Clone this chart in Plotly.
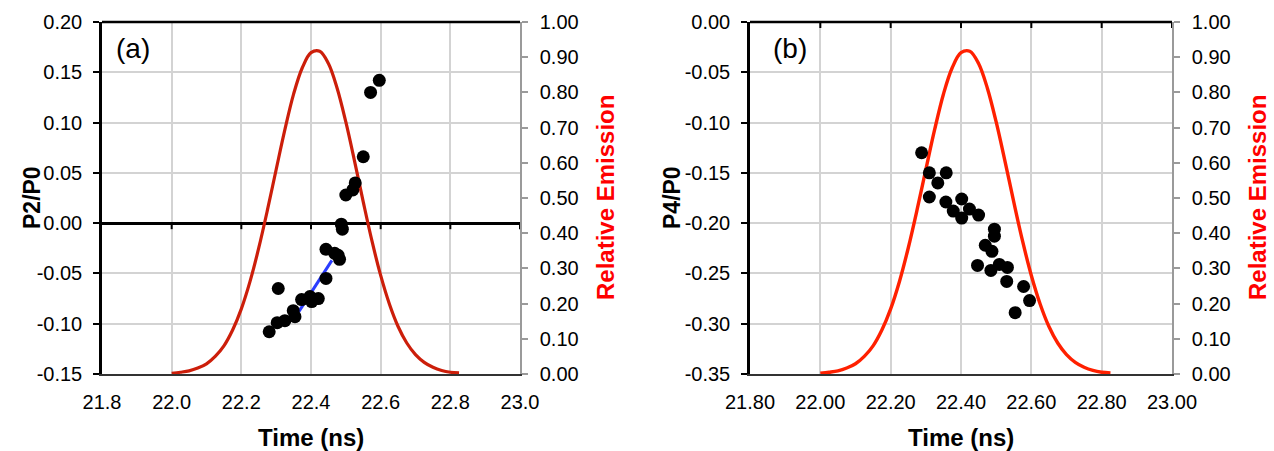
import plotly.graph_objects as go

# ---------------- data ----------------
time_ticks_a = [21.8, 22.0, 22.2, 22.4, 22.6, 22.8, 23.0]
time_labels_a = ["21.8", "22.0", "22.2", "22.4", "22.6", "22.8", "23.0"]
time_ticks_b = [21.8, 22.0, 22.2, 22.4, 22.6, 22.8, 23.0]
time_labels_b = ["21.80", "22.00", "22.20", "22.40", "22.60", "22.80", "23.00"]

p2_ticks = [0.20, 0.15, 0.10, 0.05, 0.00, -0.05, -0.10, -0.15]
p2_labels = ["0.20", "0.15", "0.10", "0.05", "0.00", "-0.05", "-0.10", "-0.15"]
p4_ticks = [0.00, -0.05, -0.10, -0.15, -0.20, -0.25, -0.30, -0.35]
p4_labels = ["0.00", "-0.05", "-0.10", "-0.15", "-0.20", "-0.25", "-0.30", "-0.35"]

# relative emission pulse
em_time = [22.000, 22.025, 22.050, 22.075, 22.100, 22.125, 22.150, 22.175, 22.200,
           22.225, 22.250, 22.275, 22.300, 22.325, 22.350, 22.375, 22.400, 22.425,
           22.450, 22.475, 22.500, 22.525, 22.550, 22.575, 22.600, 22.625, 22.650,
           22.675, 22.700, 22.725, 22.750, 22.775, 22.800, 22.825]
emission = [0.002, 0.005, 0.009, 0.017, 0.029, 0.050, 0.080, 0.125, 0.185,
            0.263, 0.358, 0.466, 0.581, 0.694, 0.795, 0.870, 0.913, 0.917,
            0.882, 0.812, 0.716, 0.605, 0.489, 0.378, 0.280, 0.199, 0.135,
            0.088, 0.055, 0.033, 0.019, 0.010, 0.005, 0.003]

# panel (a): P2/P0
p2_time = [22.596, 22.571, 22.550, 22.527, 22.520, 22.500, 22.487, 22.490,
           22.443, 22.468, 22.478, 22.482, 22.443, 22.306, 22.421, 22.397,
           22.373, 22.402, 22.349, 22.354, 22.325, 22.303, 22.280]
p2_value = [0.142, 0.130, 0.066, 0.040, 0.033, 0.028, -0.001, -0.006,
            -0.026, -0.030, -0.032, -0.036, -0.055, -0.065, -0.075, -0.073,
            -0.076, -0.078, -0.087, -0.093, -0.097, -0.099, -0.108]
fit_time = [22.365, 22.460]
fit_value = [-0.088, -0.037]

# panel (b): P4/P0
p4_time = [22.288, 22.310, 22.358, 22.334, 22.310, 22.357, 22.402, 22.378,
           22.402, 22.424, 22.450, 22.495, 22.495, 22.469, 22.488, 22.447,
           22.485, 22.509, 22.532, 22.530, 22.578, 22.595, 22.554]
p4_value = [-0.130, -0.150, -0.150, -0.160, -0.174, -0.179, -0.176, -0.188,
            -0.195, -0.186, -0.192, -0.206, -0.213, -0.222, -0.228, -0.242,
            -0.247, -0.241, -0.244, -0.258, -0.263, -0.277, -0.289]

# ---------------- figure ----------------
W, H = 1274, 451
ML, MR, MT, MB = 0, 0, 22, 77
FONT = "Liberation Sans, Arial, sans-serif"
GRID = "#D3D3D3"

fig = go.Figure()

# emission curves on base axes (drawn below the overlaid data)
fig.add_trace(go.Scatter(x=em_time, y=emission, mode="lines", xaxis="x", yaxis="y",
                         line=dict(color="#CC1E0A", width=3.2, shape="spline"),
                         showlegend=False, hoverinfo="skip"))
fig.add_trace(go.Scatter(x=em_time, y=emission, mode="lines", xaxis="x2", yaxis="y3",
                         line=dict(color="#FF2000", width=3.4, shape="spline"),
                         showlegend=False, hoverinfo="skip"))

# fit line and points
fig.add_trace(go.Scatter(x=fit_time, y=fit_value, mode="lines", xaxis="x", yaxis="y2",
                         line=dict(color="#2A3CFF", width=3), showlegend=False))
fig.add_trace(go.Scatter(x=p2_time, y=p2_value, mode="markers", xaxis="x", yaxis="y2",
                         marker=dict(color="black", size=13), showlegend=False))
fig.add_trace(go.Scatter(x=p4_time, y=p4_value, mode="markers", xaxis="x2", yaxis="y4",
                         marker=dict(color="black", size=13), showlegend=False))

dom_a = [102 / W, 520 / W]
dom_b = [750 / W, 1172 / W]
tickfont = dict(family=FONT, size=20, color="black")

def xaxis_cfg(dom, anchor, ticks, labels):
    return dict(domain=dom, anchor=anchor, range=[ticks[0], ticks[-1]],
                tickvals=ticks, ticktext=labels, showgrid=True, gridcolor=GRID,
                gridwidth=1.5, showline=True, linecolor="#333333", linewidth=1.5,
                ticks="", zeroline=False, tickfont=tickfont, ticklabelstandoff=9,
                automargin=False)

def em_axis(anchor):
    return dict(anchor=anchor, side="right", range=[0, 1], dtick=0.1, tick0=0,
                tickformat=".2f", showgrid=False, zeroline=False, showline=True,
                linecolor="#9A9A9A", linewidth=1.5, ticks="outside", ticklen=6,
                tickwidth=1.5, tickcolor="#9A9A9A", tickfont=tickfont,
                ticklabelstandoff=8, automargin=False)

def p_axis(anchor, over, ticks, labels, zl):
    return dict(anchor=anchor, overlaying=over, side="left",
                range=[min(ticks), max(ticks)], tickvals=ticks, ticktext=labels,
                showgrid=True, gridcolor=GRID, gridwidth=1.5,
                zeroline=zl, zerolinecolor="black", zerolinewidth=2.5,
                showline=True, linecolor="black", linewidth=2.5, ticks="outside",
                ticklen=6, tickwidth=2, tickcolor="black", tickfont=tickfont,
                ticklabelstandoff=7, automargin=False)

fig.update_layout(
    width=W, height=H,
    margin=dict(l=ML, r=MR, t=MT, b=MB, autoexpand=False),
    paper_bgcolor="white", plot_bgcolor="white",
    font=dict(family=FONT, color="black"),
    xaxis=xaxis_cfg(dom_a, "y", time_ticks_a, time_labels_a),
    xaxis2=xaxis_cfg(dom_b, "y3", time_ticks_b, time_labels_b),
    yaxis=em_axis("x"),
    yaxis2=p_axis("x", "y", p2_ticks, p2_labels, True),
    yaxis3=em_axis("x2"),
    yaxis4=p_axis("x2", "y3", p4_ticks, p4_labels, False),
)

shapes = []
# top borders (black)
for xr, yr in [("x domain", "y domain"), ("x2 domain", "y3 domain")]:
    shapes.append(dict(type="line", xref=xr, yref=yr, x0=0, x1=1, y0=1, y1=1,
                       line=dict(color="black", width=2.5)))
# small tick marks on the crossing x axis (y = 0)
for t in time_ticks_a[1:]:
    shapes.append(dict(type="line", xref="x", yref="y2", x0=t, x1=t, y0=0, y1=-0.006,
                       line=dict(color="black", width=2)))
for t in time_ticks_b[1:]:
    shapes.append(dict(type="line", xref="x2", yref="y4", x0=t, x1=t, y0=0, y1=-0.006,
                       line=dict(color="black", width=2)))
fig.update_layout(shapes=shapes)

plot_h = H - MT - MB

def py(pix):
    return (H - MB - pix) / plot_h

title_font = dict(family=FONT, size=23, color="black")
red_font = dict(family=FONT, size=24, color="#FF0000")
ann = [
    dict(text="(a)", x=133 / W, y=py(49), font=dict(family=FONT, size=28, color="black")),
    dict(text="(b)", x=790 / W, y=py(48), font=dict(family=FONT, size=28, color="black")),
    dict(text="<b>P2/P0</b>", x=32 / W, y=0.5, textangle=-90, font=title_font),
    dict(text="<b>P4/P0</b>", x=672 / W, y=0.5, textangle=-90, font=title_font),
    dict(text="<b>Relative Emission</b>", x=605 / W, y=0.5, textangle=-90, font=red_font),
    dict(text="<b>Relative Emission</b>", x=1257 / W, y=0.5, textangle=-90, font=red_font),
    dict(text="<b>Time (ns)</b>", x=311 / W, y=py(437), font=dict(family=FONT, size=24, color="black")),
    dict(text="<b>Time (ns)</b>", x=961 / W, y=py(437), font=dict(family=FONT, size=24, color="black")),
]
for a in ann:
    a.update(xref="paper", yref="paper", showarrow=False, xanchor="center", yanchor="middle")
fig.update_layout(annotations=ann)

fig.write_html("out.html")
